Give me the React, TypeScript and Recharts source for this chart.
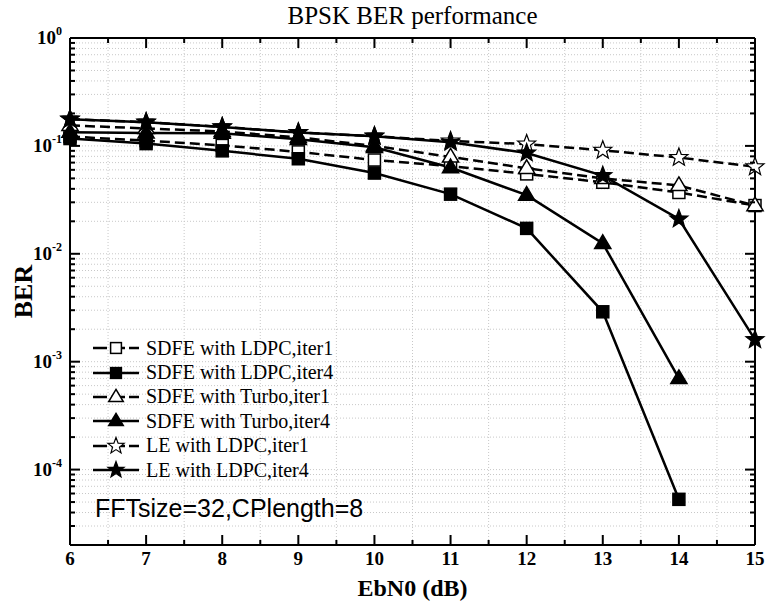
import { LineChart, Line, XAxis, YAxis, CartesianGrid, Legend } from 'recharts'

const SERIF = '"Liberation Serif", "Times New Roman", serif'
const SANS = '"Liberation Sans", Arial, sans-serif'

// EbN0 (dB) and BER
const ebn0 = [6, 7, 8, 9, 10, 11, 12, 13, 14, 15]
const sdfeLdpcIter1 = [0.122, 0.112, 0.101, 0.088, 0.074, 0.065, 0.055, 0.046, 0.037, 0.028]
const sdfeLdpcIter4 = [0.117, 0.105, 0.09, 0.076, 0.056, 0.0357, 0.0172, 0.0029, 0.000053]
const sdfeTurboIter1 = [0.155, 0.145, 0.136, 0.12, 0.1, 0.079, 0.062, 0.05, 0.043, 0.028]
const sdfeTurboIter4 = [0.134, 0.132, 0.131, 0.115, 0.097, 0.063, 0.035, 0.0125, 0.0007]
const leLdpcIter1 = [0.177, 0.166, 0.15, 0.133, 0.123, 0.111, 0.104, 0.091, 0.078, 0.064]
const leLdpcIter4 = [0.177, 0.166, 0.15, 0.133, 0.123, 0.108, 0.086, 0.053, 0.021, 0.0016]

const xMajor = [6, 7, 8, 9, 10, 11, 12, 13, 14, 15]
const xMinor = [6.5, 7.5, 8.5, 9.5, 10.5, 11.5, 12.5, 13.5, 14.5]
const yDecades = [0.00001, 0.0001, 0.001, 0.01, 0.1, 1]
const yMultipliers = [1, 2, 3, 4, 5, 6, 7, 8, 9]
const yDomain = [0.00002, 1]

const yAll = yDecades
  .flatMap((d) => yMultipliers.map((m) => m * d))
  .filter((v) => v >= yDomain[0] * 0.999 && v <= yDomain[1] * 1.001)
const xAll = [...xMajor, ...xMinor].sort((a, b) => a - b)

type Series = { key: string; name: string; values: number[]; shape: 'square' | 'triangle' | 'star'; filled: boolean }

const series: Series[] = [
  { key: 'ldpc1', name: 'SDFE with LDPC,iter1', values: sdfeLdpcIter1, shape: 'square', filled: false },
  { key: 'ldpc4', name: 'SDFE with LDPC,iter4', values: sdfeLdpcIter4, shape: 'square', filled: true },
  { key: 'turbo1', name: 'SDFE with Turbo,iter1', values: sdfeTurboIter1, shape: 'triangle', filled: false },
  { key: 'turbo4', name: 'SDFE with Turbo,iter4', values: sdfeTurboIter4, shape: 'triangle', filled: true },
  { key: 'le1', name: 'LE with LDPC,iter1', values: leLdpcIter1, shape: 'star', filled: false },
  { key: 'le4', name: 'LE with LDPC,iter4', values: leLdpcIter4, shape: 'star', filled: true },
]

const rows = ebn0.map((x, i) => {
  const row: Record<string, number | undefined> = { x }
  series.forEach((s) => {
    row[s.key] = s.values[i]
  })
  return row
})

function Marker({ cx, cy, shape, filled, scale = 1 }: { cx: number; cy: number; shape: string; filled: boolean; scale?: number }) {
  const fill = filled ? '#000' : '#fff'
  if (shape === 'square') {
    const h = 6 * scale
    return <rect x={cx - h} y={cy - h} width={2 * h} height={2 * h} fill={fill} stroke="#000" strokeWidth={1.5} />
  }
  if (shape === 'triangle') {
    const r = 8.5 * scale
    const pts = `${cx},${cy - r} ${cx + r * 0.95},${cy + r * 0.6} ${cx - r * 0.95},${cy + r * 0.6}`
    return <polygon points={pts} fill={fill} stroke="#000" strokeWidth={1.5} />
  }
  const outer = 9.5 * scale
  const inner = 4 * scale
  const pts: string[] = []
  for (let k = 0; k < 10; k++) {
    const r = k % 2 === 0 ? outer : inner
    const a = -Math.PI / 2 + (k * Math.PI) / 5
    pts.push(`${cx + r * Math.cos(a)},${cy + r * Math.sin(a)}`)
  }
  return <polygon points={pts.join(' ')} fill={fill} stroke="#000" strokeWidth={1.2} />
}

const makeDot = (s: Series) => (props: any) => {
  const { cx, cy, index } = props
  if (cx == null || cy == null || Number.isNaN(cy)) return <g key={`${s.key}-${index}`} />
  return (
    <g key={`${s.key}-${index}`}>
      <Marker cx={cx} cy={cy} shape={s.shape} filled={s.filled} />
    </g>
  )
}

const isDecade = (v: number) => Math.abs(Math.log10(v) - Math.round(Math.log10(v))) < 1e-6

const labelStyle = { fontFamily: SERIF, fontWeight: 700, fill: '#000' }

function BottomTick(props: any) {
  const { x, y, payload } = props
  const major = Number.isInteger(payload.value)
  return (
    <g>
      <line x1={x} x2={x} y1={y} y2={y - (major ? 10 : 5)} stroke="#000" strokeWidth={2} />
      {major && (
        <text x={x} y={y + 20} textAnchor="middle" fontSize={19} {...labelStyle}>
          {payload.value}
        </text>
      )}
    </g>
  )
}

function TopTick(props: any) {
  const { x, y, payload } = props
  const major = Number.isInteger(payload.value)
  return <line x1={x} x2={x} y1={y} y2={y + (major ? 10 : 5)} stroke="#000" strokeWidth={2} />
}

function LeftTick(props: any) {
  const { x, y, payload } = props
  const major = isDecade(payload.value)
  const exp = Math.round(Math.log10(payload.value))
  return (
    <g>
      <line x1={x} x2={x + (major ? 10 : 5)} y1={y} y2={y} stroke="#000" strokeWidth={2} />
      {major && (
        <text x={x - 8} y={y + 6} textAnchor="end" fontSize={19} {...labelStyle}>
          <tspan>10</tspan>
          <tspan dy={-9} fontSize={12}>
            {exp}
          </tspan>
        </text>
      )}
    </g>
  )
}

function RightTick(props: any) {
  const { x, y, payload } = props
  const major = isDecade(payload.value)
  return <line x1={x} x2={x - (major ? 10 : 5)} y1={y} y2={y} stroke="#000" strokeWidth={2} />
}

function YLabel(props: any) {
  const { viewBox } = props
  const cx = 23
  const cy = viewBox.y + viewBox.height / 2
  return (
    <text x={cx} y={cy} transform={`rotate(-90 ${cx} ${cy})`} textAnchor="middle" dominantBaseline="central" fontSize={26} {...labelStyle}>
      BER
    </text>
  )
}

function LegendSample({ s }: { s: Series }) {
  const dashed = !s.filled
  return (
    <svg width={50} height={22} style={{ display: 'block' }}>
      <line
        x1={2}
        x2={48}
        y1={11}
        y2={11}
        stroke="#000"
        strokeWidth={2.5}
        strokeDasharray={dashed ? '14 4' : undefined}
      />
      <Marker cx={25} cy={11} shape={s.shape} filled={s.filled} scale={0.9} />
    </svg>
  )
}

function LegendBox() {
  return (
    <div style={{ fontFamily: SERIF, fontSize: 20, color: '#000' }}>
      {series.map((s) => (
        <div key={s.key} style={{ display: 'flex', alignItems: 'center', height: 24.4 }}>
          <LegendSample s={s} />
          <span style={{ marginLeft: 5, whiteSpace: 'nowrap' }}>{s.name}</span>
        </div>
      ))}
      <div style={{ fontFamily: SANS, fontSize: 25, marginTop: 12, marginLeft: 4, whiteSpace: 'nowrap' }}>
        FFTsize=32,CPlength=8
      </div>
    </div>
  )
}

export default function App() {
  return (
    <div style={{ position: 'absolute', left: 0, top: 0, width: 766, height: 602, background: '#fff' }}>
      <div
        style={{
          position: 'absolute',
          left: 70,
          width: 685,
          top: 1,
          textAlign: 'center',
          fontFamily: SERIF,
          fontSize: 25,
          lineHeight: '30px',
          color: '#000',
        }}
      >
        BPSK BER performance
      </div>
      <LineChart width={766} height={602} data={rows} margin={{ top: 37, right: 10, bottom: 0, left: 0 }}>
        <CartesianGrid
          stroke="#c8c8c8"
          strokeDasharray="1 2"
          horizontalValues={yAll}
          verticalValues={xMinor}
        />
        <XAxis
          dataKey="x"
          type="number"
          domain={[6, 15]}
          ticks={xAll}
          interval={0}
          height={57}
          tickSize={0}
          tickMargin={0}
          tickLine={false}
          tick={<BottomTick />}
          axisLine={{ stroke: '#000', strokeWidth: 2 }}
          label={{
            value: 'EbN0 (dB)',
            position: 'insideBottom',
            offset: 6,
            style: { fontFamily: SERIF, fontWeight: 700, fontSize: 24, fill: '#000' },
          }}
        />
        <XAxis
          xAxisId="top"
          orientation="top"
          dataKey="x"
          type="number"
          domain={[6, 15]}
          ticks={xAll}
          interval={0}
          height={1}
          tickSize={0}
          tickMargin={0}
          tickLine={false}
          tick={<TopTick />}
          axisLine={{ stroke: '#000', strokeWidth: 2 }}
        />
        <YAxis
          type="number"
          scale="log"
          domain={yDomain}
          allowDataOverflow
          ticks={yAll}
          interval={0}
          width={70}
          tickSize={0}
          tickMargin={0}
          tickLine={false}
          tick={<LeftTick />}
          axisLine={{ stroke: '#000', strokeWidth: 2 }}
          label={<YLabel />}
        />
        <YAxis
          yAxisId="right"
          orientation="right"
          type="number"
          scale="log"
          domain={yDomain}
          allowDataOverflow
          ticks={yAll}
          interval={0}
          width={1}
          tickSize={0}
          tickMargin={0}
          tickLine={false}
          tick={<RightTick />}
          axisLine={{ stroke: '#000', strokeWidth: 2 }}
        />
        <Legend
          layout="vertical"
          align="center"
          verticalAlign="middle"
          wrapperStyle={{ left: 91, top: 336, width: 320 }}
          content={() => <LegendBox />}
        />
        {series.map((s) => (
          <Line
            key={s.key}
            dataKey={s.key}
            name={s.name}
            type="linear"
            stroke="#000"
            strokeWidth={2.5}
            strokeDasharray={s.filled ? undefined : '10 5'}
            dot={makeDot(s)}
            activeDot={false}
            connectNulls={false}
            isAnimationActive={false}
          />
        ))}
      </LineChart>
    </div>
  )
}
